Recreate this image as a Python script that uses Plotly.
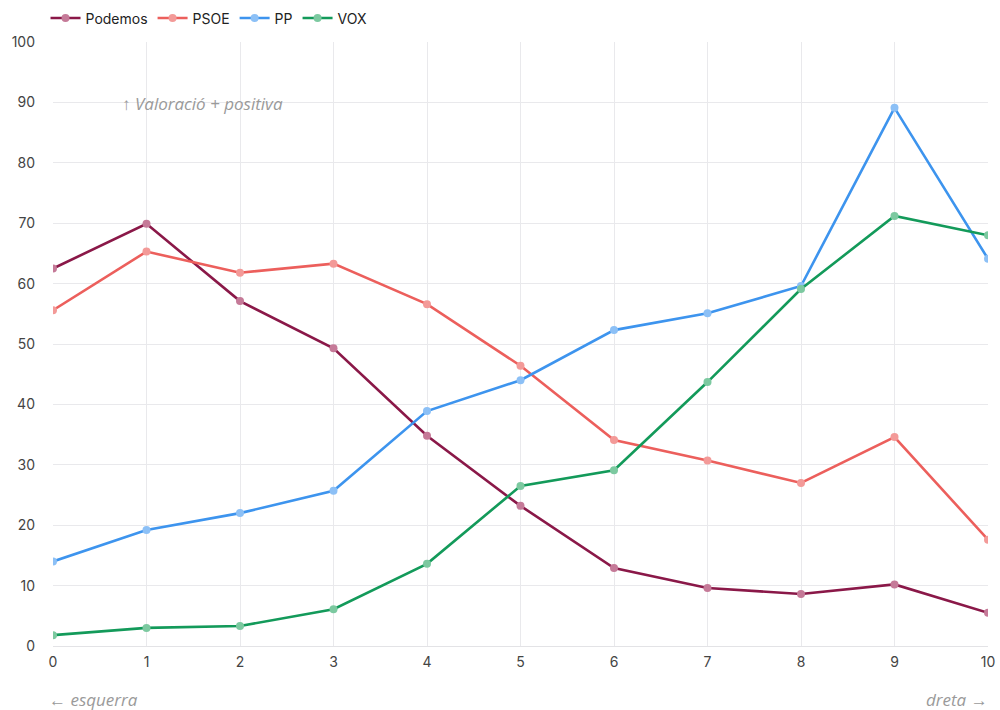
import plotly.graph_objects as go

x_vals = [0, 1, 2, 3, 4, 5, 6, 7, 8, 9, 10]
podemos = [62.5, 69.9, 57.1, 49.3, 34.8, 23.2, 12.9, 9.6, 8.6, 10.2, 5.5]
psoe = [55.6, 65.3, 61.8, 63.3, 56.6, 46.4, 34.1, 30.7, 27.0, 34.6, 17.6]
pp = [14.0, 19.2, 22.0, 25.7, 38.9, 44.0, 52.3, 55.1, 59.6, 89.1, 64.1]
vox = [1.8, 3.0, 3.3, 6.1, 13.6, 26.5, 29.1, 43.7, 59.1, 71.2, 68.0]

series = [
    ("Podemos", podemos, "#8a1848", "#c57a98"),
    ("PSOE", psoe, "#ec5f5c", "#f39a98"),
    ("PP", pp, "#3d94ee", "#8cc0f6"),
    ("VOX", vox, "#139a5a", "#7cc9a0"),
]

fig = go.Figure()
for name, vals, lc, mc in series:
    fig.add_trace(go.Scatter(
        x=x_vals, y=vals, name=name, mode="lines+markers",
        line=dict(color=lc, width=2.6),
        marker=dict(color=mc, size=8, line=dict(width=0)),
    ))

note_font = dict(family="Open Sans, sans-serif", size=17, color="#9a9a9a", style="italic")

fig.update_layout(
    width=1000, height=710,
    margin=dict(l=53, r=12, t=42, b=64, autoexpand=False),
    paper_bgcolor="white", plot_bgcolor="white",
    font=dict(family="Inter, Roboto, sans-serif", size=14, color="#333"),
    showlegend=True,
    legend=dict(orientation="h", x=-0.008, xanchor="left", y=1.039, yanchor="middle",
                font=dict(size=14, color="#222"), itemwidth=30, tracegroupgap=0,
                bgcolor="rgba(0,0,0,0)"),
    xaxis=dict(range=[0, 10], tickmode="array", tickvals=x_vals,
               showgrid=True, gridcolor="#e9e9ec", gridwidth=1, zeroline=False,
               showline=False, ticks="", ticklabelstandoff=6, ticklabeloverflow="allow",
               tickfont=dict(size=14, color="#444"), fixedrange=True),
    yaxis=dict(range=[0, 100], dtick=10, showgrid=True, gridcolor="#e9e9ec",
               gridwidth=1, zeroline=True, zerolinecolor="#e3e3e6", zerolinewidth=1,
               showline=False, ticks="", ticklabelstandoff=17,
               tickfont=dict(size=14, color="#444"), fixedrange=True),
    annotations=[
        dict(text="↑ Valoració + positiva", x=0.072, y=0.899, xref="paper", yref="paper",
             xanchor="left", yanchor="middle", showarrow=False, font=note_font),
        dict(text="← esquerra", x=-0.006, y=-0.089, xref="paper", yref="paper",
             xanchor="left", yanchor="middle", showarrow=False, font=note_font),
        dict(text="dreta →", x=1.002, y=-0.089, xref="paper", yref="paper",
             xanchor="right", yanchor="middle", showarrow=False, font=note_font),
    ],
)

fig.write_html(
    "out.html",
    config={"displayModeBar": False},
    post_script="document.body.style.margin='0';document.body.style.overflow='hidden';",
)
